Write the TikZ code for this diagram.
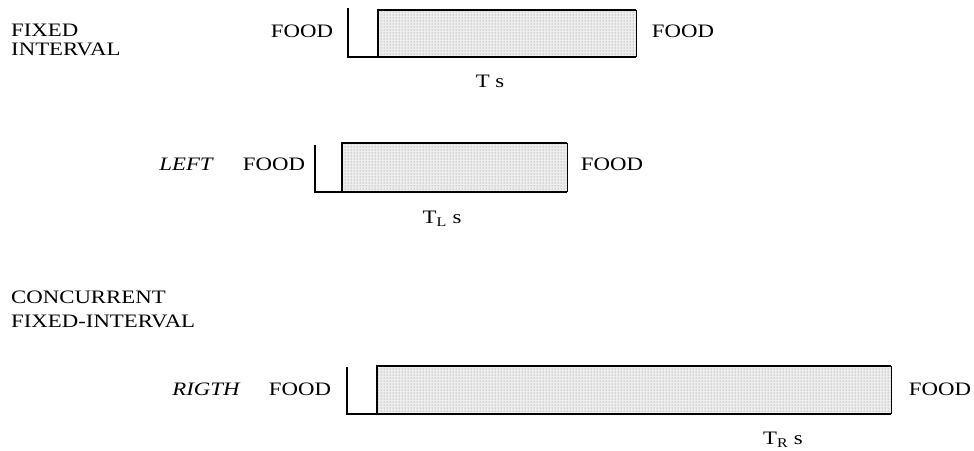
\documentclass[tikz,border=0pt]{standalone}
\usepackage{fontspec}
\usetikzlibrary{patterns}
\setmainfont{Liberation Serif}[FakeStretch=1.2]
\begin{document}
\begin{tikzpicture}[x=1pt,y=-1pt,
  lbl/.style={inner sep=0pt,font=\fontsize{19}{21}\selectfont},
  ilbl/.style={inner sep=0pt,font=\fontsize{19}{21}\selectfont\itshape},
  ttl/.style={inner sep=0pt,anchor=west,align=left},
  wave/.style={line width=1.3pt},
  boxfill/.style={fill=black!7},
  boxdots/.style={pattern=dots,pattern color=black!50},
  edge/.style={line width=1.6pt},
  redge/.style={line width=0.8pt}]
\useasboundingbox (0,0) rectangle (974,450);

% ---------- row 1 ----------
\node[ttl,font=\fontsize{19}{19.5}\selectfont] (fi) at (11,40) {FIXED\\INTERVAL};
\node[lbl] (f1l) at (302,31) {FOOD};
\node[lbl] (f1r) at (683,31) {FOOD};
\node[lbl] (t1) at (490,81) {T s};
\coordinate (a1) at (348,8);
\coordinate (b1) at (348,57);
\coordinate (c1) at (378,57);
\coordinate (d1) at (378,10);
\coordinate (e1) at (636,10);
\coordinate (g1) at (636,57);
\fill[boxfill] (d1) rectangle (g1);
\fill[boxdots] (d1) rectangle (g1);
\draw[wave] (a1) -- (b1) -- (c1);
\draw[edge] (c1) -- (d1) -- (e1);
\draw[edge] (c1) -- (g1);
\draw[redge] (e1) -- (g1);

% ---------- row 2 ----------
\node[ilbl] (l2) at (186,164) {LEFT};
\node[lbl] (f2l) at (274,164) {FOOD};
\node[lbl] (f2r) at (612,164) {FOOD};
\node[lbl] (t2) at (442,219) {T\textsubscript{L} s};
\coordinate (a2) at (315,145);
\coordinate (b2) at (315,192);
\coordinate (c2) at (342,192);
\coordinate (d2) at (342,143);
\coordinate (e2) at (567,143);
\coordinate (g2) at (567,192);
\fill[boxfill] (d2) rectangle (g2);
\fill[boxdots] (d2) rectangle (g2);
\draw[wave] (a2) -- (b2) -- (c2);
\draw[edge] (c2) -- (d2) -- (e2);
\draw[edge] (c2) -- (g2);
\draw[redge] (e2) -- (g2);

% ---------- row 3 ----------
\node[ttl,font=\fontsize{19}{24}\selectfont] (cf) at (11,309) {CONCURRENT\\FIXED-INTERVAL};
\node[ilbl] (r3) at (206,389) {RIGTH};
\node[lbl] (f3l) at (300,389) {FOOD};
\node[lbl] (f3r) at (940,389) {FOOD};
\node[lbl] (t3) at (783,440) {T\textsubscript{R} s};
\coordinate (a3) at (347,367);
\coordinate (b3) at (347,414);
\coordinate (c3) at (377,414);
\coordinate (d3) at (377,366);
\coordinate (e3) at (891,366);
\coordinate (g3) at (891,414);
\fill[boxfill] (d3) rectangle (g3);
\fill[boxdots] (d3) rectangle (g3);
\draw[wave] (a3) -- (b3) -- (c3);
\draw[edge] (c3) -- (d3) -- (e3);
\draw[edge] (c3) -- (g3);
\draw[redge] (e3) -- (g3);
\end{tikzpicture}
\end{document}
